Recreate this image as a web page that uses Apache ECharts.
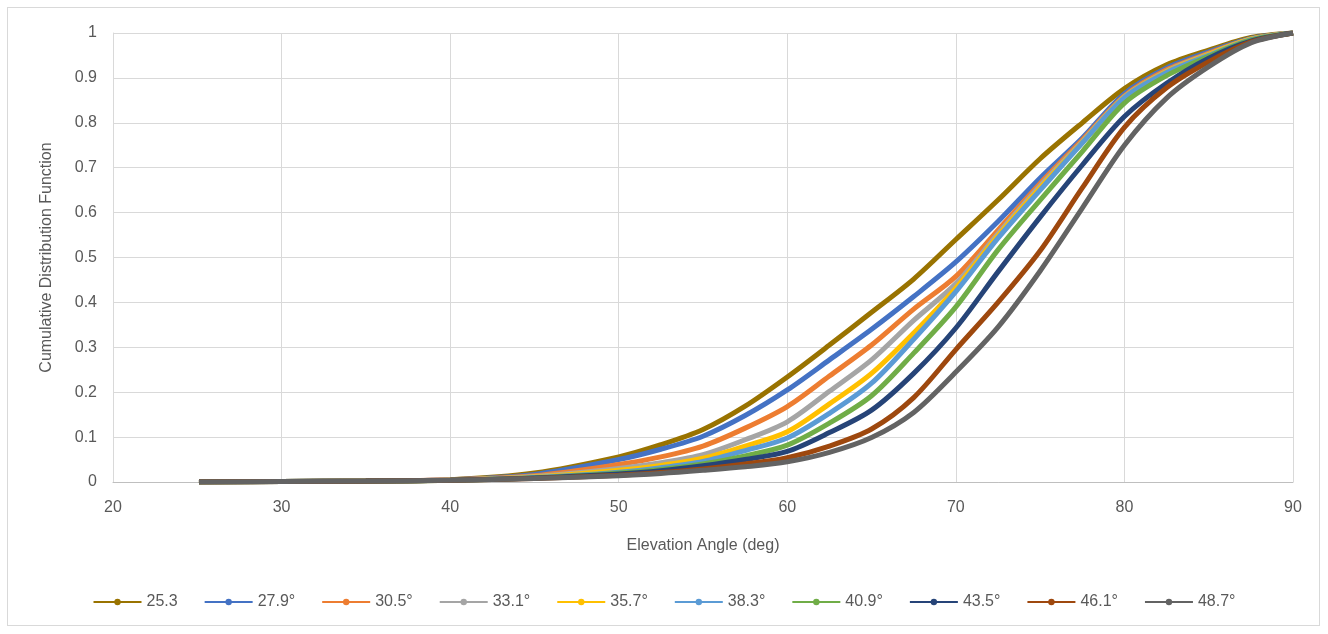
<!DOCTYPE html>
<html>
<head>
<meta charset="utf-8">
<script src="https://cdn.jsdelivr.net/npm/echarts@6/dist/echarts.min.js"></script>
<style>
html,body{margin:0;padding:0;background:#fff;}
#frame{position:absolute;left:7px;top:7px;width:1313px;height:619px;border:1px solid #d9d9d9;box-sizing:border-box;}
#chart{position:absolute;left:0;top:0;width:1328px;height:634px;}
</style>
</head>
<body>
<div id="frame"></div>
<div id="chart"></div>
<script>
const xValues = [25.1, 30, 35, 40, 45, 50, 52.5, 55, 57.5, 60, 62.5, 65, 67.5, 70, 72.5, 75, 77.5, 80, 82.5, 85, 87.5, 90];
const seriesNames = ['25.3', '27.9°', '30.5°', '33.1°', '35.7°', '38.3°', '40.9°', '43.5°', '46.1°', '48.7°'];
const s253 = [0, 0.001, 0.002, 0.005, 0.020, 0.056, 0.083, 0.117, 0.169, 0.234, 0.305, 0.378, 0.452, 0.540, 0.628, 0.720, 0.800, 0.876, 0.929, 0.962, 0.990, 1];
const s279 = [0, 0.001, 0.002, 0.005, 0.017, 0.050, 0.073, 0.102, 0.148, 0.205, 0.272, 0.340, 0.413, 0.490, 0.580, 0.677, 0.766, 0.865, 0.922, 0.958, 0.988, 1];
const s305 = [0, 0.001, 0.002, 0.005, 0.014, 0.039, 0.056, 0.080, 0.120, 0.168, 0.236, 0.305, 0.385, 0.458, 0.561, 0.665, 0.762, 0.860, 0.918, 0.955, 0.987, 1];
const s331 = [0, 0.001, 0.002, 0.004, 0.012, 0.030, 0.043, 0.061, 0.094, 0.134, 0.202, 0.272, 0.360, 0.442, 0.553, 0.660, 0.758, 0.858, 0.915, 0.953, 0.986, 1];
const s357 = [0, 0.001, 0.002, 0.004, 0.011, 0.026, 0.037, 0.053, 0.080, 0.112, 0.174, 0.242, 0.332, 0.432, 0.548, 0.655, 0.756, 0.857, 0.914, 0.952, 0.986, 1];
const s383 = [0, 0.001, 0.002, 0.004, 0.010, 0.022, 0.032, 0.046, 0.070, 0.098, 0.153, 0.220, 0.318, 0.424, 0.543, 0.650, 0.755, 0.856, 0.912, 0.950, 0.985, 1];
const s409 = [0, 0.001, 0.002, 0.004, 0.009, 0.020, 0.028, 0.040, 0.058, 0.082, 0.131, 0.192, 0.287, 0.390, 0.517, 0.628, 0.736, 0.844, 0.905, 0.948, 0.984, 1];
const s435 = [0, 0.001, 0.002, 0.004, 0.009, 0.018, 0.025, 0.036, 0.050, 0.068, 0.110, 0.160, 0.242, 0.343, 0.468, 0.590, 0.706, 0.814, 0.888, 0.944, 0.982, 1];
const s461 = [0, 0.001, 0.002, 0.004, 0.008, 0.015, 0.021, 0.029, 0.040, 0.054, 0.080, 0.118, 0.188, 0.295, 0.400, 0.515, 0.655, 0.790, 0.878, 0.936, 0.980, 1];
const s487 = [0, 0.001, 0.002, 0.004, 0.008, 0.014, 0.019, 0.026, 0.034, 0.045, 0.066, 0.099, 0.155, 0.245, 0.345, 0.470, 0.610, 0.750, 0.855, 0.925, 0.978, 1];
const yTickLabels = ['0', '0.1', '0.2', '0.3', '0.4', '0.5', '0.6', '0.7', '0.8', '0.9', '1'];

const allSeries = [s253, s279, s305, s331, s357, s383, s409, s435, s461, s487];
const colors = ['#997300', '#4472c4', '#ed7d31', '#a5a5a5', '#ffc000', '#5b9bd5', '#70ad47', '#264478', '#9e480e', '#636363'];
const font = 'Liberation Sans, sans-serif';

const chart = echarts.init(document.getElementById('chart'));
chart.setOption({
  animation: false,
  color: colors,
  grid: {left: 113, right: 35, top: 33, bottom: 152, containLabel: false},
  xAxis: {
    type: 'value', min: 20, max: 90, interval: 10,
    name: 'Elevation Angle (deg)', nameLocation: 'middle', nameGap: 56,
    nameTextStyle: {color: '#595959', fontSize: 16, fontFamily: font},
    axisLine: {show: true, lineStyle: {color: '#bfbfbf', width: 1}},
    axisTick: {show: false},
    axisLabel: {color: '#595959', fontSize: 16, fontFamily: font, margin: 18},
    splitLine: {show: true, lineStyle: {color: '#d9d9d9', width: 1}}
  },
  yAxis: {
    type: 'value', min: 0, max: 1, interval: 0.1,
    name: 'Cumulative Distribution Function', nameLocation: 'middle', nameGap: 58,
    nameTextStyle: {color: '#595959', fontSize: 16, fontFamily: font},
    axisLine: {show: true, lineStyle: {color: '#d9d9d9', width: 1}},
    axisTick: {show: false},
    axisLabel: {color: '#595959', fontSize: 16, fontFamily: font, margin: 16,
      formatter: function (v) { return yTickLabels[Math.round(v * 10)]; }},
    splitLine: {show: true, lineStyle: {color: '#d9d9d9', width: 1}}
  },
  legend: {
    bottom: 19, left: 'center', itemWidth: 48, itemHeight: 8, itemGap: 26,
    textStyle: {color: '#595959', fontSize: 16, fontFamily: font},
    data: seriesNames
  },
  series: allSeries.map(function (vals, i) {
    return {
      name: seriesNames[i], type: 'line', smooth: 0.3,
      symbol: 'circle', symbolSize: 5, showSymbol: false,
      lineStyle: {width: 5, color: colors[i]},
      itemStyle: {color: colors[i]},
      data: xValues.map(function (x, j) { return [x, vals[j]]; })
    };
  })
});
</script>
</body>
</html>
